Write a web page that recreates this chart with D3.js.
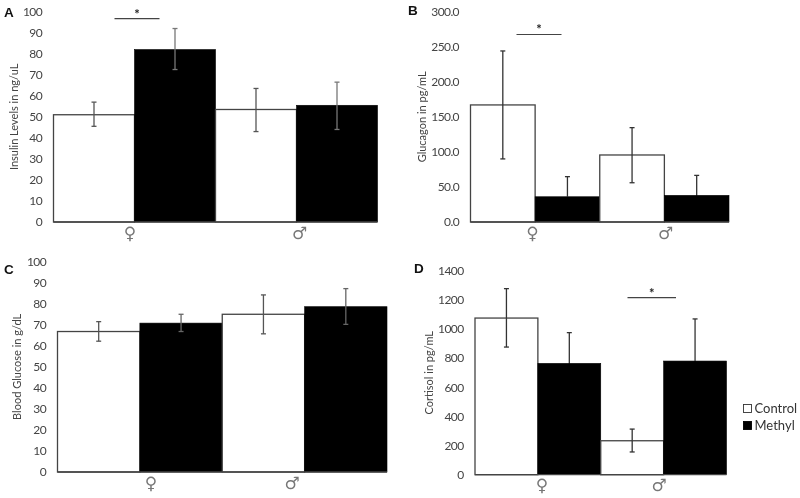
<!DOCTYPE html>
<html><head><meta charset="utf-8">
<script src="https://cdnjs.cloudflare.com/ajax/libs/d3/7.8.5/d3.min.js"></script>
<style>
html,body{margin:0;padding:0;background:#fff}
svg{display:block;filter:blur(.35px)}
text{font-family:Lato,"Open Sans",sans-serif}
</style></head><body>
<svg id="c" width="800" height="498"></svg>
<script>
const categories = ["♀","♂"];
const seriesNames = ["Control","Methyl"];

const insulinValues = [[51,82],[53.5,55.5]];
const insulinHigh = [[57,92],[63.5,66.5]];
const insulinLow = [[45.5,72.5],[43,44]];
const insulinTicks = [0,10,20,30,40,50,60,70,80,90,100];

const glucagonValues = [[167,36],[95.6,38]];
const glucagonHigh = [[244,64.7],[134.6,66.5]];
const glucagonLow = [[90,8],[56,10]];
const glucagonTicks = [0,50,100,150,200,250,300];

const glucoseValues = [[66.8,70.8],[75,78.6]];
const glucoseHigh = [[71.5,75],[84.2,87.2]];
const glucoseLow = [[62.2,66.8],[65.7,70.2]];
const glucoseTicks = [0,10,20,30,40,50,60,70,80,90,100];

const cortisolValues = [[1075,764],[233,780]];
const cortisolHigh = [[1277,975],[313,1069]];
const cortisolLow = [[876,553],[156,491]];
const cortisolTicks = [0,200,400,600,800,1000,1200,1400];

const panels = [
 {letter:"A",lx:4,ly:17,title:"Insulin Levels in ng/uL",vals:insulinValues,hi:insulinHigh,lo:insulinLow,ticks:insulinTicks,fmt:d3.format("d"),
  x0:53.5,x1:377.5,y0:222,y1:11.7,max:100,tx:17.5,err:"#555",errUp:"#777",errIn:"#777",sym:[130,299.5],sig:{x0:114.5,x1:159.5,val:96.7}},
 {letter:"B",lx:408,ly:14.5,title:"Glucagon in pg/mL",vals:glucagonValues,hi:glucagonHigh,lo:glucagonLow,ticks:glucagonTicks,fmt:d3.format(".1f"),
  x0:470.5,x1:729,y0:222,y1:11.7,max:300,tx:426,err:"#333",errUp:"#333",errIn:"#000",sym:[532.5,665.5],sig:{x0:516.5,x1:561.5,val:267.5}},
 {letter:"C",lx:4,ly:273.5,title:"Blood Glucose in g/dL",vals:glucoseValues,hi:glucoseHigh,lo:glucoseLow,ticks:glucoseTicks,fmt:d3.format("d"),
  x0:57.5,x1:387,y0:472,y1:261.7,max:100,tx:21,err:"#555",errUp:"#666",errIn:"#666",sym:[151,292]},
 {letter:"D",lx:414,ly:273,title:"Cortisol in pg/mL",vals:cortisolValues,hi:cortisolHigh,lo:cortisolLow,ticks:cortisolTicks,fmt:d3.format("d"),
  x0:475,x1:726.5,y0:474.7,y1:270.7,max:1400,tx:433,err:"#333",errUp:"#333",errIn:"#000",sym:[542,659],sig:{x0:627.5,x1:676,val:1215}}
];

const svg = d3.select("#c");
panels.forEach(p=>{
  const g = svg.append("g");
  const y = d3.scaleLinear().domain([0,p.max]).range([p.y0,p.y1]);
  const gx = d3.scaleBand().domain(categories).range([p.x0,p.x1]);
  const sx = d3.scaleBand().domain(seriesNames).range([0,gx.bandwidth()]);

  categories.forEach((c,ci)=>{
    seriesNames.forEach((s,si)=>{
      const v=p.vals[ci][si];
      g.append("rect").attr("x",gx(c)+sx(s)).attr("y",y(v))
       .attr("width",sx.bandwidth()).attr("height",p.y0-y(v))
       .attr("fill",si?"#000":"#fff").attr("stroke",si?"#000":"#444").attr("stroke-width",si?.6:1.3);
    });
  });
  g.append("line").attr("x1",p.x0).attr("x2",p.x1).attr("y1",p.y0).attr("y2",p.y0).attr("stroke","#444").attr("stroke-width",1.3);

  const seg=(x1,x2,y1,y2,col)=>g.append("line").attr("x1",x1).attr("x2",x2).attr("y1",y1).attr("y2",y2).attr("stroke",col).attr("stroke-width",1.3);
  categories.forEach((c,ci)=>{
    seriesNames.forEach((s,si)=>{
      const cx=gx(c)+sx(s)+sx.bandwidth()/2;
      const hi=p.hi[ci][si], lo=p.lo[ci][si], v=p.vals[ci][si];
      const up=si?p.errUp:p.err, dn=si?p.errIn:p.err;
      seg(cx,cx,y(hi),y(v),up);
      seg(cx-2.5,cx+2.5,y(hi),y(hi),up);
      seg(cx,cx,y(v),y(lo),dn);
      seg(cx-2.5,cx+2.5,y(lo),y(lo),dn);
    });
  });

  const axis = d3.axisLeft(y).tickValues(p.ticks).tickFormat(p.fmt).tickSize(0).tickPadding(11.5);
  const ag = g.append("g").attr("transform",`translate(${p.x0},0)`).call(axis);
  ag.select(".domain").remove();
  ag.selectAll("text").attr("fill","#444").attr("font-size",12).style("letter-spacing","-0.6px");

  categories.forEach((c,ci)=>{
    g.append("text").attr("x",p.sym[ci]).attr("y",p.y0+16.5).attr("text-anchor","middle")
     .style("font-family","'DejaVu Sans'").attr("font-size",17).attr("fill","#777").text(c);
  });

  const my=(p.y0+p.y1)/2;
  g.append("text").attr("transform",`translate(${p.tx},${my}) rotate(-90)`).attr("text-anchor","middle")
   .attr("font-size",11).attr("fill","#444").text(p.title);

  g.append("text").attr("x",p.lx).attr("y",p.ly).attr("font-size",13.5).attr("font-weight",700)
   .style("font-family","'Liberation Sans'").attr("fill","#111").text(p.letter);

  if(p.sig){
    const sy=y(p.sig.val);
    g.append("line").attr("x1",p.sig.x0).attr("x2",p.sig.x1).attr("y1",sy).attr("y2",sy).attr("stroke","#444").attr("stroke-width",1.2);
    g.append("text").attr("x",(p.sig.x0+p.sig.x1)/2).attr("y",sy).attr("text-anchor","middle").attr("font-size",13).attr("font-weight",700).attr("fill","#222").text("*");
  }
});

const lg = svg.append("g");
seriesNames.forEach((s,i)=>{
  const ly=d3.scalePoint().domain(seriesNames).range([408.5,425.5])(s);
  lg.append("rect").attr("x",743.5).attr("y",ly-4).attr("width",8).attr("height",8)
    .attr("fill",i?"#000":"#fff").attr("stroke",i?"#000":"#333").attr("stroke-width",.9);
  lg.append("text").attr("x",754.5).attr("y",ly+4.5).attr("font-size",13).attr("fill","#333").text(s);
});
</script>
</body></html>
